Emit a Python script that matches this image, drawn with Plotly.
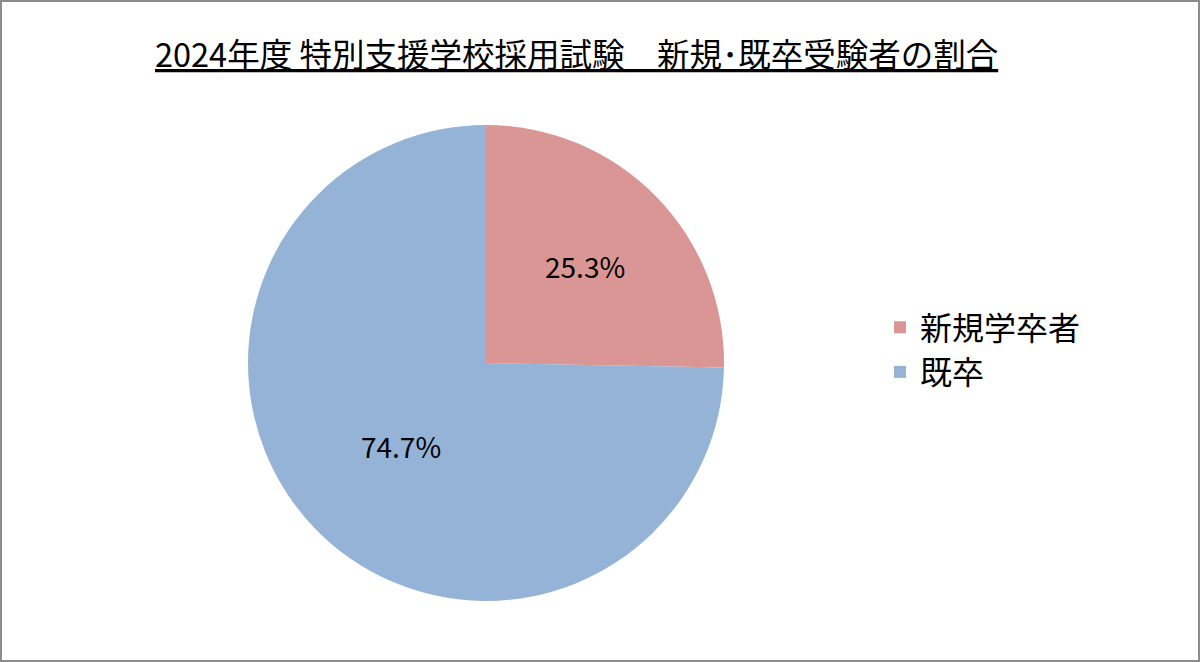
import plotly.graph_objects as go

# 新規・既卒受験者の割合 (%)
labels = ["新規学卒者", "既卒"]
values = [25.3, 74.7]
colors = ["#D99694", "#95B3D7"]

title_text = "2024年度 特別支援学校採用試験　新規･既卒受験者の割合"

W, H = 1200, 662
font_family = "Noto Sans CJK JP, Noto Sans, sans-serif"

fig = go.Figure(
    go.Pie(
        labels=labels,
        values=values,
        marker=dict(colors=colors, line=dict(width=0)),
        sort=False,
        direction="clockwise",
        rotation=0,
        texttemplate="%{value:.1f}%",
        textposition="inside",
        insidetextorientation="horizontal",
        textfont=dict(size=28, color="black", family=font_family),
        domain=dict(x=[248 / W, 724 / W], y=[1 - 601 / H, 1 - 125 / H]),
        hoverinfo="label+percent",
    )
)

fig.update_layout(
    width=W,
    height=H,
    margin=dict(l=0, r=0, t=0, b=0),
    paper_bgcolor="white",
    font=dict(family=font_family, color="black"),
    legend=dict(
        x=880 / W,
        y=1 - 350 / H,
        xanchor="left",
        yanchor="middle",
        font=dict(size=32, family=font_family),
        itemwidth=30,
    ),
    annotations=[
        dict(
            text=title_text,
            x=153 / W,
            y=1 - 52 / H,
            xref="paper",
            yref="paper",
            xanchor="left",
            yanchor="middle",
            showarrow=False,
            font=dict(size=32.5, family=font_family, lineposition="under"),
        )
    ],
    shapes=[
        dict(
            type="rect",
            xref="paper",
            yref="paper",
            x0=1 / W,
            x1=1 - 1 / W,
            y0=1 / H,
            y1=1 - 1 / H,
            line=dict(color="#8c8c8c", width=2),
        )
    ],
)

fig.write_html(
    "out.html",
    config={"displayModeBar": False},
    post_script="document.body.style.margin='0';",
)
